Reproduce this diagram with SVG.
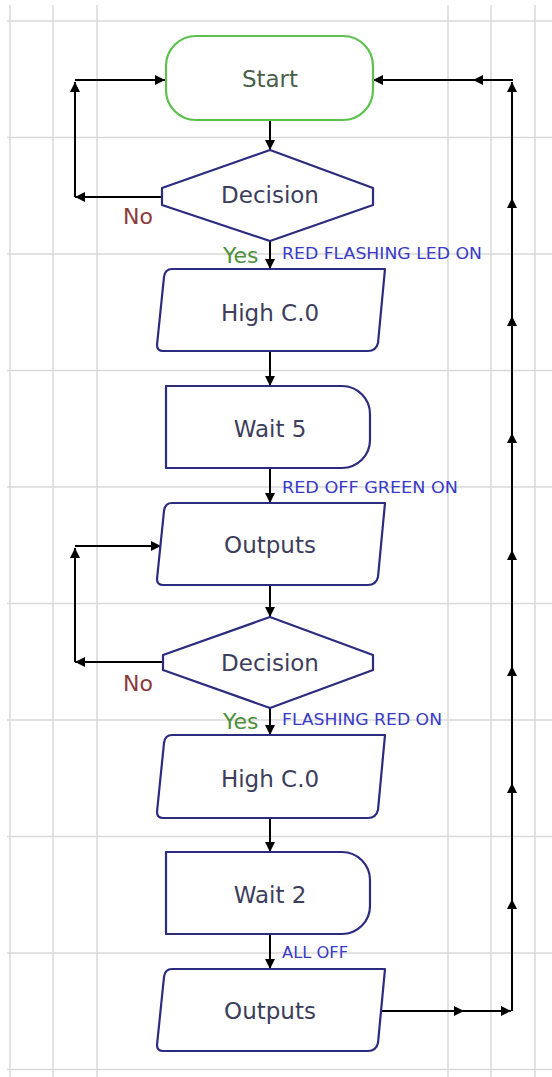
<svg xmlns="http://www.w3.org/2000/svg" width="552" height="1077" viewBox="0 0 552 1077">
<style>
.grid{stroke:#d9d9d9;stroke-width:1.5;fill:none}
.node{fill:#ffffff;stroke:#2b2b80;stroke-width:2.2;stroke-linejoin:round}
.start{fill:#ffffff;stroke:#5cc04c;stroke-width:2.2}
.lbl{font-family:"DejaVu Sans",Verdana,sans-serif;font-size:23px;fill:#3d3d5c;text-anchor:middle}
.edge{stroke:#000000;stroke-width:2;fill:none;marker-end:url(#ah)}
.no{font-family:"DejaVu Sans",Verdana,sans-serif;font-size:22px;fill:#8b3a3a}
.yes{font-family:"DejaVu Sans",Verdana,sans-serif;font-size:22px;fill:#4e8f3c}
.note{font-family:"DejaVu Sans",Verdana,sans-serif;font-size:15px;fill:#3a3ac8}
</style>
<defs>
<marker id="ah" viewBox="0 0 10 10" refX="10" refY="5" markerWidth="11" markerHeight="10" markerUnits="userSpaceOnUse" orient="auto">
<path d="M0,0 L10,5 L0,10 Z" fill="#000000"/>
</marker>
</defs>
<rect x="0" y="0" width="552" height="1077" fill="#ffffff"/>
<g id="grid" class="grid">
<path d="M7,21H552M7,137.5H552M7,254H552M7,370.5H552M7,487H552M7,603.5H552M7,720H552M7,836.5H552M7,953H552M7,1069.5H552"/>
<path d="M10,5V1077M53,5V1077M97,5V1077M448,5V1077M491,5V1077M535,5V1077"/>
</g>
<g id="connectors">
<line class="edge" x1="270" y1="120" x2="270" y2="150"/>
<line class="edge" x1="270" y1="241" x2="270" y2="269"/>
<line class="edge" x1="270" y1="351" x2="270" y2="386"/>
<line class="edge" x1="270" y1="468" x2="270" y2="503"/>
<line class="edge" x1="270" y1="585" x2="270" y2="617"/>
<line class="edge" x1="270" y1="708" x2="270" y2="735"/>
<line class="edge" x1="270" y1="818" x2="270" y2="852"/>
<line class="edge" x1="270" y1="934" x2="270" y2="969"/>
<line class="edge" x1="162" y1="197" x2="75" y2="197"/>
<line class="edge" x1="75" y1="197" x2="75" y2="82"/>
<line class="edge" x1="75" y1="80" x2="165" y2="80"/>
<line class="edge" x1="163" y1="662" x2="75" y2="662"/>
<line class="edge" x1="75" y1="662" x2="75" y2="548"/>
<line class="edge" x1="75" y1="546" x2="161" y2="546"/>
<line class="edge" x1="380" y1="1011" x2="464" y2="1011"/>
<line class="edge" x1="464" y1="1011" x2="511" y2="1011"/>
<line class="edge" x1="512" y1="1011" x2="512" y2="899"/>
<line class="edge" x1="512" y1="899" x2="512" y2="783"/>
<line class="edge" x1="512" y1="783" x2="512" y2="666"/>
<line class="edge" x1="512" y1="666" x2="512" y2="550"/>
<line class="edge" x1="512" y1="550" x2="512" y2="433"/>
<line class="edge" x1="512" y1="433" x2="512" y2="316"/>
<line class="edge" x1="512" y1="316" x2="512" y2="198"/>
<line class="edge" x1="512" y1="198" x2="512" y2="82"/>
<line class="edge" x1="513" y1="80" x2="473" y2="80"/>
<line class="edge" x1="473" y1="80" x2="373" y2="80"/>
</g>
<g id="start">
<rect class="start" x="166" y="36" width="207" height="84" rx="30" ry="30"/>
<text class="lbl" x="270" y="87" style="fill:#4a604a">Start</text>
</g>
<g id="decision1">
<path class="node" d="M270,150 L373,188 L373,205 L270,241 L162,205 L162,188 Z"/>
<text class="lbl" x="270" y="203">Decision</text>
</g>
<g id="high1">
<path class="node" d="M172,269 L385,269 L378,343 Q376,351 368,351 L163,351 Q157,351 157,345 L164,277 Q165,269 172,269 Z"/>
<text class="lbl" x="270" y="321">High C.0</text>
</g>
<g id="wait5">
<path class="node" d="M166,386 H342 A28,28 0 0 1 370,414 V440 A28,28 0 0 1 342,468 H166 Z"/>
<text class="lbl" x="270" y="437">Wait 5</text>
</g>
<g id="outputs1">
<path class="node" d="M172,503 L385,503 L378,577 Q376,585 368,585 L163,585 Q157,585 157,579 L164,511 Q165,503 172,503 Z"/>
<text class="lbl" x="270" y="553">Outputs</text>
</g>
<g id="decision2">
<path class="node" d="M270,617 L373,655 L373,670 L270,708 L163,670 L163,655 Z"/>
<text class="lbl" x="270" y="671">Decision</text>
</g>
<g id="high2">
<path class="node" d="M172,735 L385,735 L378,810 Q376,818 368,818 L163,818 Q157,818 157,812 L164,743 Q165,735 172,735 Z"/>
<text class="lbl" x="270" y="787">High C.0</text>
</g>
<g id="wait2">
<path class="node" d="M166,852 H342 A28,28 0 0 1 370,880 V906 A28,28 0 0 1 342,934 H166 Z"/>
<text class="lbl" x="270" y="903">Wait 2</text>
</g>
<g id="outputs2">
<path class="node" d="M172,969 L385,969 L378,1043 Q376,1051 368,1051 L163,1051 Q157,1051 157,1045 L164,977 Q165,969 172,969 Z"/>
<text class="lbl" x="270" y="1019">Outputs</text>
</g>
<g id="labels">
<text class="no" x="123" y="224">No</text>
<text class="yes" x="223" y="263">Yes</text>
<text class="note" x="282" y="259" textLength="200" lengthAdjust="spacingAndGlyphs">RED FLASHING LED ON</text>
<text class="note" x="282" y="493" textLength="176" lengthAdjust="spacingAndGlyphs">RED OFF GREEN ON</text>
<text class="no" x="123" y="691">No</text>
<text class="yes" x="223" y="729">Yes</text>
<text class="note" x="282" y="725" textLength="160" lengthAdjust="spacingAndGlyphs">FLASHING RED ON</text>
<text class="note" x="282" y="958" textLength="66" lengthAdjust="spacingAndGlyphs">ALL OFF</text>
</g>
</svg>
